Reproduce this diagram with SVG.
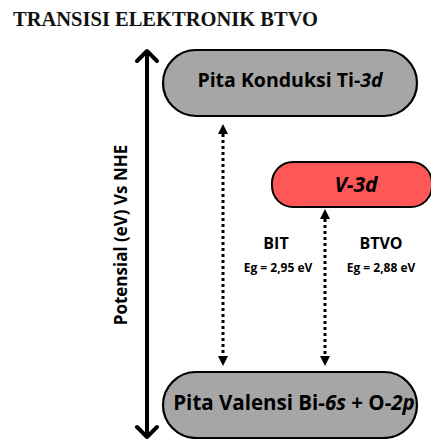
<svg xmlns="http://www.w3.org/2000/svg" width="431" height="439" viewBox="0 0 431 439">
<defs>
<style>
.pill{fill:#a6a6a6;stroke:#000;stroke-width:2.2}
.red{fill:#ff5757;stroke:#000;stroke-width:2}
.t{font-family:"Open Sans","Liberation Sans",sans-serif;font-weight:bold;fill:#000;text-anchor:middle}
.dot{stroke:#000;stroke-width:3;stroke-dasharray:3 3;fill:none}
.axis{stroke:#000;stroke-width:4;fill:none;stroke-linecap:round;stroke-linejoin:round}
</style>
</defs>
<rect width="431" height="439" fill="#fff"/>
<text x="13" y="26" font-family="'Liberation Serif',serif" font-weight="bold" font-size="20" fill="#111" textLength="305" lengthAdjust="spacingAndGlyphs">TRANSISI ELEKTRONIK BTVO</text>
<g id="axis">
<path class="axis" d="M147,52 V436"/>
<path class="axis" d="M137,61 L147,51 L157,61"/>
<path class="axis" d="M137,427 L147,437 L157,427"/>
<text class="t" font-size="17" transform="translate(127,235) rotate(-90)">Potensial (eV) Vs NHE</text>
</g>
<g id="conduction">
<rect class="pill" x="163" y="50" width="254" height="66" rx="33"/>
<text class="t" x="290" y="87" font-size="19.5">Pita Konduksi Ti-<tspan font-style="italic">3d</tspan></text>
</g>
<g id="v3d">
<rect class="red" x="272" y="162" width="160" height="45" rx="21"/>
<text class="t" x="356" y="192" font-size="21" font-style="italic">V-3d</text>
</g>
<g id="valence">
<rect class="pill" x="163" y="372" width="254" height="66" rx="33"/>
<text class="t" x="294" y="410" font-size="20.5">Pita Valensi Bi-<tspan font-style="italic">6s</tspan> + O-<tspan font-style="italic">2p</tspan></text>
</g>
<g id="connectors">
<path class="dot" d="M223,134 V356"/>
<path d="M218,134 L223,124 L228,134 Z" fill="#000"/>
<path d="M218,356 L223,366 L228,356 Z" fill="#000"/>
<path class="dot" d="M325,219 V356"/>
<path d="M320,219 L325,209 L330,219 Z" fill="#000"/>
<path d="M320,356 L325,366 L330,356 Z" fill="#000"/>
</g>
<g id="labels">
<text class="t" x="276" y="249" font-size="16">BIT</text>
<text class="t" x="278" y="272" font-size="12">Eg = 2,95 eV</text>
<text class="t" x="381" y="249" font-size="16">BTVO</text>
<text class="t" x="381" y="272" font-size="12">Eg = 2,88 eV</text>
</g>
</svg>
